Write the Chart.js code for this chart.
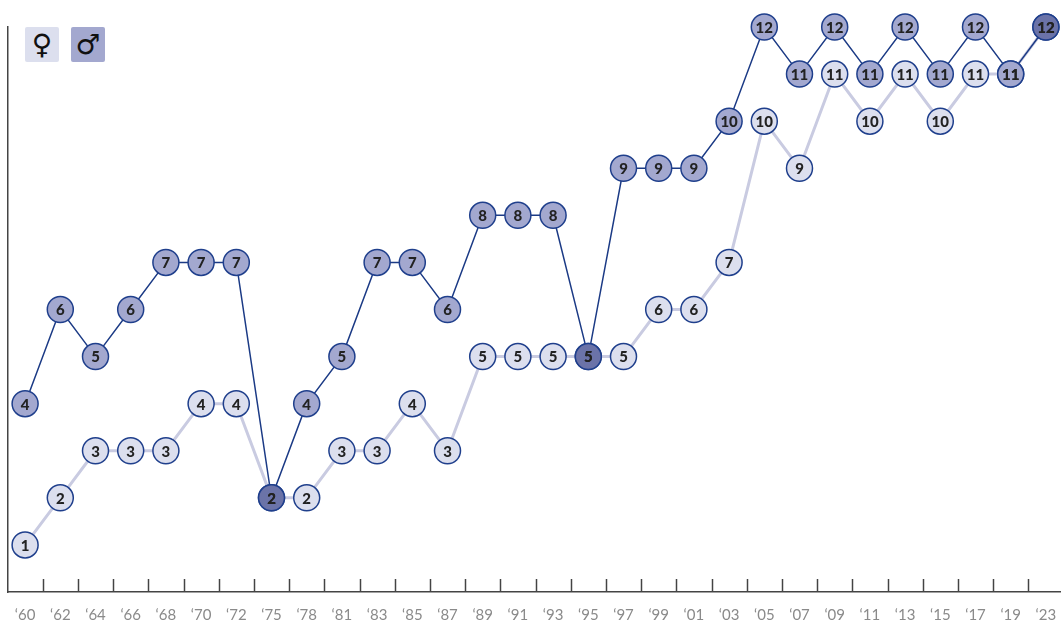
<!DOCTYPE html>
<html>
<head>
<meta charset="utf-8">
<script src="https://cdn.jsdelivr.net/npm/chart.js@4/dist/chart.umd.min.js"></script>
<style>
  html, body { margin: 0; padding: 0; background: #fff; overflow: hidden; }
  #wrap { position: relative; width: 1061px; height: 624px; overflow: hidden; }
  #chart { position: absolute; left: -7px; top: 0; }
  .legend { position: absolute; top: 27px; width: 34px; height: 35px; border-radius: 2px;
    font-family: 'DejaVu Sans', sans-serif; font-size: 28px; line-height: 35px; text-align: center; color: #111; }
  #lg-f { left: 25px; background: #dcdfee; }
  #lg-m { left: 71px; background: #a3a8cf; }
</style>
</head>
<body>
<div id="wrap">
  <canvas id="chart" width="1085" height="624"></canvas>
  <div class="legend" id="lg-f">♀</div>
  <div class="legend" id="lg-m">♂</div>
</div>
<script>
const years = ['‘60','‘62','‘64','‘66','‘68','‘70','‘72','‘75','‘78','‘81','‘83','‘85','‘87','‘89','‘91',
  '‘93','‘95','‘97','‘99','‘01','‘03','‘05','‘07','‘09','‘11','‘13','‘15','‘17','‘19','‘23'];
const female = [1,2,3,3,3,4,4,2,2,3,3,4,3,5,5,5,5,5,6,6,7,10,9,11,10,11,10,11,11,12];
const male   = [4,6,5,6,7,7,7,2,4,5,7,7,6,8,8,8,5,9,9,9,10,12,11,12,11,12,11,12,11,12];
// years where both lines meet get the darker fill
const sameMarks = ['‘75','‘95','‘23'];

const FEMALE_FILL = '#dcdfee';
const MALE_FILL = '#a3a8cf';
const SAME_FILL = '#6b73a8';
const BORDER = '#1f3f8c';

// tick marks pointing up from the x axis, between categories
const upTicks = {
  id: 'upTicks',
  afterDraw(chart) {
    const x = chart.scales.x;
    const bottom = chart.chartArea.bottom;
    const c = chart.ctx;
    c.save();
    c.strokeStyle = '#444';
    c.lineWidth = 1.5;
    for (let i = 0; i < years.length - 1; i++) {
      const px = Math.round((x.getPixelForValue(i) + x.getPixelForValue(i + 1)) / 2) + 0.5;
      c.beginPath();
      c.moveTo(px, bottom - 13);
      c.lineTo(px, bottom);
      c.stroke();
    }
    c.restore();
  }
};

// numbers inside the circles
const pointLabels = {
  id: 'pointLabels',
  afterDatasetsDraw(chart) {
    const c = chart.ctx;
    c.save();
    c.font = '900 15px Lato';
    c.fillStyle = '#222';
    c.textAlign = 'center';
    c.textBaseline = 'middle';
    [1, 0].forEach(di => {
      const meta = chart.getDatasetMeta(di);
      const vals = chart.data.datasets[di].data;
      meta.data.forEach((pt, i) => {
        c.fillText(String(vals[i]), pt.x, pt.y + 1);
      });
    });
    c.restore();
  }
};

new Chart(document.getElementById('chart'), {
  type: 'line',
  data: {
    labels: years,
    datasets: [
      {
        label: 'male',
        data: male,
        order: 0,
        borderColor: '#1b3a85',
        borderWidth: 1.5,
        pointRadius: 13,
        pointBorderWidth: 1.5,
        pointBorderColor: BORDER,
        pointBackgroundColor: years.map(y => sameMarks.includes(y) ? SAME_FILL : MALE_FILL),
        clip: false
      },
      {
        label: 'female',
        data: female,
        order: 1,
        borderColor: '#c9cbe1',
        borderWidth: 3,
        pointRadius: 13,
        pointBorderWidth: 1.5,
        pointBorderColor: BORDER,
        pointBackgroundColor: FEMALE_FILL,
        clip: false
      }
    ]
  },
  options: {
    responsive: false,
    animation: false,
    layout: { padding: { left: 0, top: 27, right: 0, bottom: 0 } },
    plugins: { legend: { display: false }, tooltip: { enabled: false } },
    scales: {
      x: {
        offset: true,
        grid: { display: false },
        border: { color: '#444', width: 1.5 },
        afterFit(s) { s.height = 32; },
        ticks: { color: '#8a8a8a', font: { family: 'Lato', size: 15 }, padding: 6, maxRotation: 0, autoSkip: false }
      },
      y: {
        min: 0,
        max: 12,
        grid: { display: false, drawTicks: false },
        border: { color: '#444', width: 1.5 },
        afterFit(s) { s.width = 8; },
        ticks: { display: false }
      }
    }
  },
  plugins: [upTicks, pointLabels]
});
</script>
</body>
</html>
